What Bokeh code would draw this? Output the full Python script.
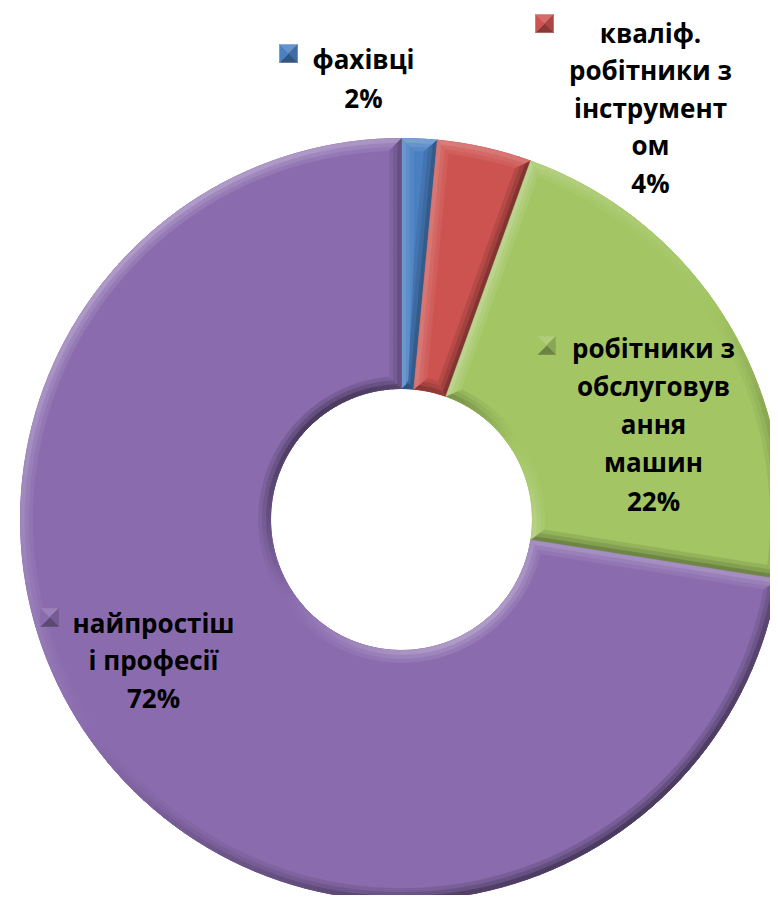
import numpy as np
from bokeh.plotting import figure
from bokeh.models import Range1d, ColumnDataSource
from bokeh.embed import file_html
from bokeh.resources import INLINE
from bokeh.core.properties import value

# ---------------- data ----------------
categories = ["фахівці", "кваліф. робітники з інструментом",
              "робітники з обслуговування машин", "найпростіші професії"]
label_lines = [["фахівці"],
               ["кваліф.", "робітники з", "інструмент", "ом"],
               ["робітники з", "обслуговув", "ання", "машин"],
               ["найпростіш", "і професії"]]
shares = [1.5, 4.0, 22.0, 72.5]

# ---------------- style / layout ----------------
colors = ["#4A80C2", "#CD5350", "#A3C564", "#8A6CAE"]
CX, CY = 401, 519          # donut centre in page pixels
OUTER_R, INNER_R = 381, 131
BEVEL = 12
LIGHT = np.deg2rad(125)
label_pos = [(363, 58, 39.0), (650, 32, 37.5), (653, 347, 38.3), (153, 622, 37.5)]
marker_pos = [(288, 53), (544, 23), (546, 345), (49, 617)]
MARK = 9
FONT = "Open Sans"
FONT_SIZE = "26px"


def hex2rgb(h):
    h = h.lstrip("#")
    return np.array([int(h[i:i + 2], 16) for i in (0, 2, 4)], dtype=float)


def rgb2hex(c):
    c = np.clip(np.round(c), 0, 255).astype(int)
    return "#%02x%02x%02x" % tuple(c)


def shade(h, s):
    c = hex2rgb(h)
    if s >= 0:
        c = c + (255 - c) * s * 0.32
    else:
        c = c * (1 + s * 0.45)
    return rgb2hex(c)


def X(px):
    return px - CX


def Y(py):
    return CY - py


W, H = 770, 895
p = figure(width=W, height=H, x_range=Range1d(X(0), X(W)),
           y_range=Range1d(Y(H), Y(0)), output_backend="svg",
           toolbar_location=None, min_border=0,
           x_axis_location=None, y_axis_location=None)
p.grid.visible = False
p.outline_line_color = None
p.background_fill_color = "white"
p.border_fill_color = "white"

# slice angles (clockwise from 12 o'clock)
fr = np.array(shares) / np.sum(shares)
cum = np.concatenate([[0.0], np.cumsum(fr)])
a_hi = np.pi / 2 - 2 * np.pi * cum[:-1]
a_lo = np.pi / 2 - 2 * np.pi * cum[1:]

src = ColumnDataSource(dict(start=a_lo, end=a_hi, color=colors, name=categories))
p.annular_wedge(x=0, y=0, inner_radius=INNER_R, outer_radius=OUTER_R,
                start_angle="start", end_angle="end", fill_color="color",
                line_color="color", line_width=0.5, source=src)


def delta(rho, b, span):
    return min(np.arcsin(min(1.0, b / rho)), span / 2 * 0.98)


def bevel_polys(lo, hi, b, step=np.deg2rad(2.0)):
    span = hi - lo
    polys = []
    n = max(2, int(np.ceil(span / step)))
    t = np.linspace(0, 1, n + 1)
    for r_edge, r_in, outward in [(OUTER_R, OUTER_R - b, True), (INNER_R, INNER_R + b, False)]:
        d = delta(r_in, b, span)
        lo_i, hi_i = lo + d, hi - d
        for k in range(n):
            p0, p1 = lo + t[k] * span, lo + t[k + 1] * span
            q0, q1 = lo_i + t[k] * (hi_i - lo_i), lo_i + t[k + 1] * (hi_i - lo_i)
            xs = [r_edge * np.cos(p0), r_edge * np.cos(p1), r_in * np.cos(q1), r_in * np.cos(q0)]
            ys = [r_edge * np.sin(p0), r_edge * np.sin(p1), r_in * np.sin(q1), r_in * np.sin(q0)]
            nang = (p0 + p1) / 2 + (0 if outward else np.pi)
            polys.append((xs, ys, nang))
    rhos = np.linspace(INNER_R + b, OUTER_R - b, 30)
    for edge, sgn in [(lo, 1), (hi, -1)]:
        ang = [edge + sgn * delta(r, b, span) for r in rhos]
        xs = [OUTER_R * np.cos(edge), INNER_R * np.cos(edge)] + [r * np.cos(a) for r, a in zip(rhos, ang)]
        ys = [OUTER_R * np.sin(edge), INNER_R * np.sin(edge)] + [r * np.sin(a) for r, a in zip(rhos, ang)]
        nang = edge - np.pi / 2 if sgn > 0 else edge + np.pi / 2
        polys.append((xs, ys, nang))
    return polys


bx, by, bc = [], [], []
for bw, strength in [(BEVEL, 0.3), (BEVEL * 2 / 3, 0.6), (BEVEL / 3, 1.0)]:
    for i in range(len(shares)):
        for xs, ys, nang in bevel_polys(a_lo[i], a_hi[i], bw):
            bx.append(xs)
            by.append(ys)
            bc.append(shade(colors[i], np.cos(nang - LIGHT) * strength))
p.patches(xs=bx, ys=by, fill_color=bc, line_color=bc, line_width=0.6)

# legend-key markers (pyramid squares)
mx, my, mc = [], [], []
for i, (px, py) in enumerate(marker_pos):
    cx, cy = X(px), Y(py)
    c = colors[i]
    corners = [(cx - MARK, cy + MARK), (cx + MARK, cy + MARK),
               (cx + MARK, cy - MARK), (cx - MARK, cy - MARK)]
    tri_shades = [0.45, -0.35, -0.75, 0.0]   # top, right, bottom, left
    for k in range(4):
        a = corners[k]
        b2 = corners[(k + 1) % 4]
        mx.append([a[0], b2[0], cx])
        my.append([a[1], b2[1], cy])
        mc.append(shade(c, tri_shades[k]))
p.patches(xs=mx, ys=my, fill_color=mc, line_color=mc, line_width=0.5)

# labels
tx, ty, tt = [], [], []
for i, lines in enumerate(label_lines):
    lx, ly, sp = label_pos[i]
    allines = lines + [f"{shares[i]:.0f}%"]
    for k, line in enumerate(allines):
        tx.append(X(lx))
        ty.append(Y(ly + k * sp))
        tt.append(line)
p.text(x=tx, y=ty, text=tt, text_font=value(FONT), text_font_style="bold",
       text_font_size=FONT_SIZE, text_align="center", text_baseline="middle",
       text_color="#000000")

open("out.html", "w").write(file_html(p, INLINE))
